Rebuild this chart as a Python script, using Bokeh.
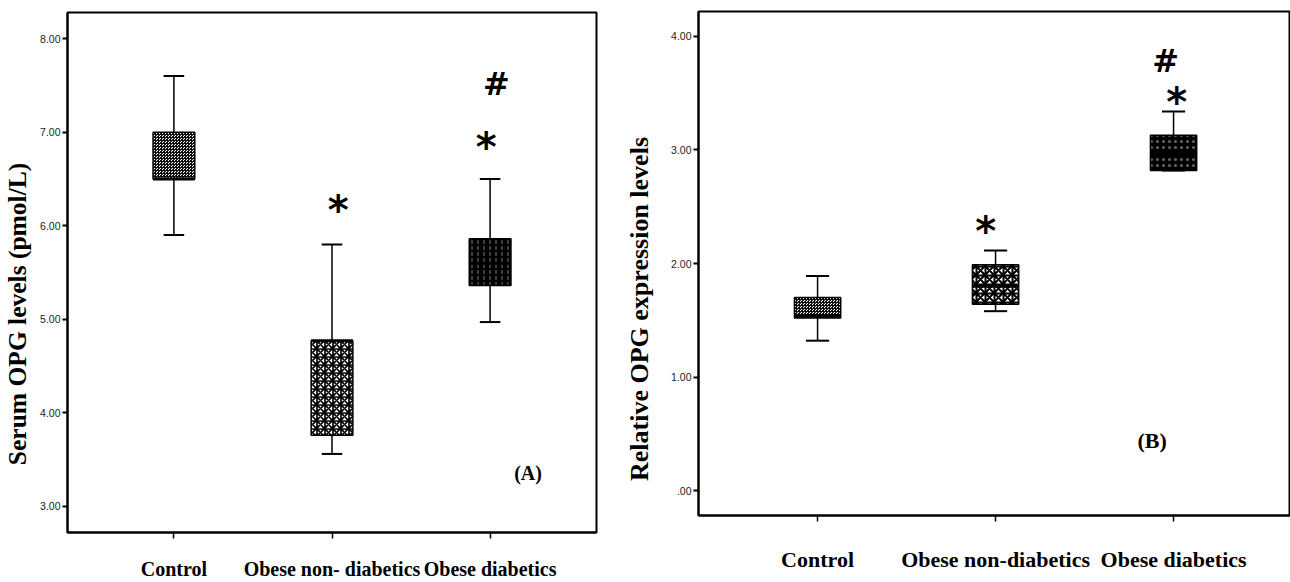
from bokeh.plotting import figure
from bokeh.layouts import row, column
from bokeh.models import FixedTicker, Range1d
from bokeh.core.properties import value
from bokeh.embed import file_html
from bokeh.resources import INLINE

# ---------------- Data: panel A (serum OPG) ----------------
categories_a = ["Control", "Obese non- diabetics", "Obese diabetics"]
lower_a = [5.90, 3.56, 4.97]
q1_a = [6.50, 3.76, 5.36]
median_a = [6.50, 4.77, 5.60]
q3_a = [7.00, 4.77, 5.86]
upper_a = [7.60, 5.80, 6.50]
yticks_a = [3, 4, 5, 6, 7, 8]
ytick_labels_a = ["3.00", "4.00", "5.00", "6.00", "7.00", "8.00"]
marks_a_text = ["*", "*", "#"]
marks_a_x = [2.04, 2.975, 3.04]
marks_a_y = [6.165, 6.845, 7.52]
panel_a_label = "(A)"
ytitle_a = "Serum OPG levels (pmol/L)"

# ---------------- Data: panel B (relative OPG expression) ----------------
categories_b = ["Control", "Obese non-diabetics", "Obese diabetics"]
lower_b = [1.32, 1.58, 2.82]
q1_b = [1.52, 1.64, 2.82]
median_b = [1.54, 1.80, 2.97]
q3_b = [1.70, 1.99, 3.13]
upper_b = [1.89, 2.115, 3.34]
yticks_b = [0, 1, 2, 3, 4]
ytick_labels_b = [".00", "1.00", "2.00", "3.00", "4.00"]
marks_b_text = ["*", "*", "#"]
marks_b_x = [1.944, 3.017, 2.955]
marks_b_y = [2.285, 3.425, 3.78]
panel_b_label = "(B)"
ytitle_b = "Relative OPG expression levels"

# ---------------- Styles ----------------
SERIF = "Liberation Serif"
SANS = "Liberation Sans"
NBSP = "\u00a0"
styles_a = [
    dict(fill_color="white", hatch_pattern="criss_cross", hatch_scale=3, hatch_weight=0.9, hatch_color="black"),
    dict(fill_color="white", hatch_pattern="criss_cross", hatch_scale=8, hatch_weight=1.7, hatch_color="black"),
    dict(fill_color="black", hatch_pattern="vertical_dash", hatch_scale=6, hatch_weight=0.8, hatch_color="#999999"),
]
styles_b = [
    dict(fill_color="white", hatch_pattern="criss_cross", hatch_scale=3, hatch_weight=0.9, hatch_color="black"),
    dict(fill_color="white", hatch_pattern="criss_cross", hatch_scale=9, hatch_weight=2.0, hatch_color="black"),
    dict(fill_color="black", hatch_pattern="dot", hatch_scale=6, hatch_weight=1, hatch_color="#666666"),
]


def make_panel(cats, lo, q1, med, q3, up, yticks, ylabels, ylab, xr, yr,
               width, height, border_left, border_right, border_top, border_bottom,
               box_w, cap_w, styles, mtext, mx, my, plabel, plabel_xy, plabel_size,
               xlab_size, xlab_standoff, ylab_standoff, ylab_size, star_size, hash_size):
    p = figure(width=width, height=height, output_backend="svg", toolbar_location=None,
               x_range=Range1d(*xr), y_range=Range1d(*yr),
               min_border_left=border_left, min_border_right=border_right,
               min_border_top=border_top, min_border_bottom=border_bottom)
    p.grid.visible = False
    p.outline_line_color = "black"
    p.outline_line_width = 2
    p.background_fill_color = "white"
    p.border_fill_color = "white"

    xs = [i + 1 for i in range(len(cats))]
    # whiskers
    p.segment(x0=xs, y0=q3, x1=xs, y1=up, line_color="black", line_width=1.5)
    p.segment(x0=xs, y0=lo, x1=xs, y1=q1, line_color="black", line_width=1.5)
    p.segment(x0=[x - cap_w / 2 for x in xs], y0=up, x1=[x + cap_w / 2 for x in xs], y1=up,
              line_color="black", line_width=2)
    p.segment(x0=[x - cap_w / 2 for x in xs], y0=lo, x1=[x + cap_w / 2 for x in xs], y1=lo,
              line_color="black", line_width=2)
    # boxes
    for i, x in enumerate(xs):
        p.quad(left=[x - box_w / 2], right=[x + box_w / 2], bottom=[q1[i]], top=[q3[i]],
               line_color="black", line_width=1.5, **styles[i])
    # medians
    p.segment(x0=[x - box_w / 2 for x in xs], y0=med, x1=[x + box_w / 2 for x in xs], y1=med,
              line_color="black", line_width=3)

    # significance marks
    for t, x, y in zip(mtext, mx, my):
        p.text(x=[x], y=[y], text=[t], text_font=value("DejaVu Sans"), text_font_style="bold",
               text_font_size=star_size if t == "*" else hash_size,
               text_align="center", text_baseline="middle", text_color="black")
    p.text(x=[plabel_xy[0]], y=[plabel_xy[1]], text=[plabel], text_font=value(SERIF),
           text_font_style="bold", text_font_size=plabel_size, text_align="center",
           text_baseline="middle", text_color="black")

    # x axis
    xa = p.xaxis[0]
    xa.ticker = FixedTicker(ticks=xs)
    xa.major_label_overrides = {x: c for x, c in zip(xs, cats)}
    xa.major_label_text_font = SERIF
    xa.major_label_text_font_style = "bold"
    xa.major_label_text_font_size = xlab_size
    xa.major_label_text_color = "black"
    xa.major_label_standoff = xlab_standoff
    xa.major_tick_out = 6
    xa.major_tick_in = 0
    xa.major_tick_line_width = 1.5
    xa.minor_tick_line_color = None
    xa.axis_line_width = 2
    xa.axis_line_color = "black"

    # y axis
    ya = p.yaxis[0]
    ya.ticker = FixedTicker(ticks=yticks)
    ya.major_label_overrides = {t: l for t, l in zip(yticks, ylabels)}
    ya.major_label_text_font = SANS
    ya.major_label_text_font_size = "10.5px"
    ya.major_label_text_color = "#222222"
    ya.major_label_standoff = 2
    ya.major_tick_out = 5
    ya.major_tick_in = 0
    ya.major_tick_line_width = 2
    ya.minor_tick_line_color = None
    ya.axis_line_width = 2
    ya.axis_line_color = "black"
    ya.axis_label = ylab
    ya.axis_label_text_font = SERIF
    ya.axis_label_text_font_style = "bold"
    ya.axis_label_text_font_size = ylab_size
    ya.axis_label_text_color = "black"
    ya.axis_label_standoff = ylab_standoff
    return p


pA = make_panel(categories_a, lower_a, q1_a, median_a, q3_a, upper_a, yticks_a, ytick_labels_a,
                ytitle_a + NBSP * 13, (0.327, 3.673), (2.72, 8.28),
                620, 582, 63, 24, 12, 49, 0.264, 0.13, styles_a,
                marks_a_text, marks_a_x, marks_a_y, panel_a_label, (3.24, 3.36), "20px",
                "20px", 19, 5, "25.5px", "40px", "32px")

pB = make_panel(categories_b, lower_b, q1_b, median_b, q3_b, upper_b, yticks_b, ytick_labels_b,
                ytitle_b + NBSP * 14, (0.331, 3.657), (-0.22, 4.22),
                670, 582, 78, 0, 11, 67, 0.26, 0.13, styles_b,
                marks_b_text, marks_b_x, marks_b_y, panel_b_label, (2.88, 0.44), "22px",
                "22px", 25, 14, "26px", "40px", "32px")

layout = row(column(pA), column(pB))
open("out.html", "w").write(file_html(layout, INLINE))
